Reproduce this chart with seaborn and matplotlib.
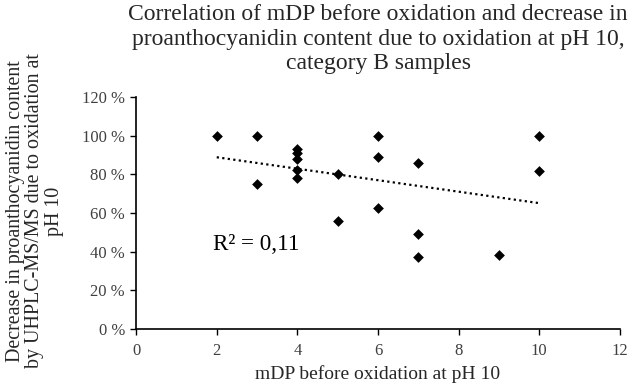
import numpy as np
import pandas as pd
import matplotlib
matplotlib.use("Agg")
import matplotlib.pyplot as plt
import seaborn as sns
from matplotlib.ticker import FuncFormatter

mdp = [2, 3, 3, 4, 4, 4, 4, 4, 5, 5, 6, 6, 6, 7, 7, 7, 9, 10, 10]
decrease = [100, 100, 75, 93, 91, 88, 82, 78, 80, 56, 100, 89, 62.5, 86, 49, 37, 38, 100, 81.5]
x_ticks = [0, 2, 4, 6, 8, 10, 12]
y_ticks = [0, 20, 40, 60, 80, 100, 120]
title = "Correlation of mDP before oxidation and decrease in\nproanthocyanidin content due to oxidation at pH 10,\ncategory B samples"
xlabel = "mDP before oxidation at pH 10"
ylabel = "Decrease in proanthocyanidin content\nby UHPLC-MS/MS due to oxidation at\npH 10"
r2_text = "R² = 0,11"

df = pd.DataFrame({"mdp": mdp, "dec": decrease})

sns.set_theme(style="white")
plt.rcParams['font.family'] = ['Liberation Serif', 'DejaVu Serif']

fig = plt.figure(figsize=(6.3, 3.9), dpi=100)
ax = fig.add_axes([0.216, 0.157, 0.768, 0.594])

sns.scatterplot(data=df, x="mdp", y="dec", marker="D", s=30, color="black",
                edgecolor="black", linewidth=0, ax=ax, zorder=3)

coef = np.polyfit(df["mdp"], df["dec"], 1)
xs = np.array([min(mdp), max(mdp)])
ax.plot(xs, np.polyval(coef, xs), linestyle=(0, (1, 1.5)), color="black", linewidth=1.6)

ax.set_xlim(0, 12)
ax.set_ylim(0, 120)
ax.set_xticks(x_ticks)
ax.set_yticks(y_ticks)
ax.yaxis.set_major_formatter(FuncFormatter(lambda v, p: f"{int(v)} %"))
ax.tick_params(axis="both", labelsize=12, colors="black", direction="out",
               length=4, width=1, left=True, bottom=True, pad=4)
ax.tick_params(axis="x", pad=6)
ax.tick_params(axis="both", labelcolor="#404040")
for s in ["top", "right"]:
    ax.spines[s].set_visible(False)
for s in ["left", "bottom"]:
    ax.spines[s].set_color("black")
    ax.spines[s].set_linewidth(1.2)

ax.set_xlabel(xlabel, fontsize=14, color="#262626", labelpad=5)
ax.set_ylabel("")
fig.text(35 / 630, 1 - 211 / 390, ylabel, rotation=90, ha="center", va="center",
         multialignment="center", fontsize=14.4, color="#262626", linespacing=1.0)
ax.text(1.91, 43.5, r2_text, fontsize=16.7, color="black", va="center", ha="left")

fig.text(378 / 630, 1 - 4 / 390, title, ha="center", va="top", fontsize=17,
         color="#262626", linespacing=1.22)

fig.savefig("out.png", dpi=100)
